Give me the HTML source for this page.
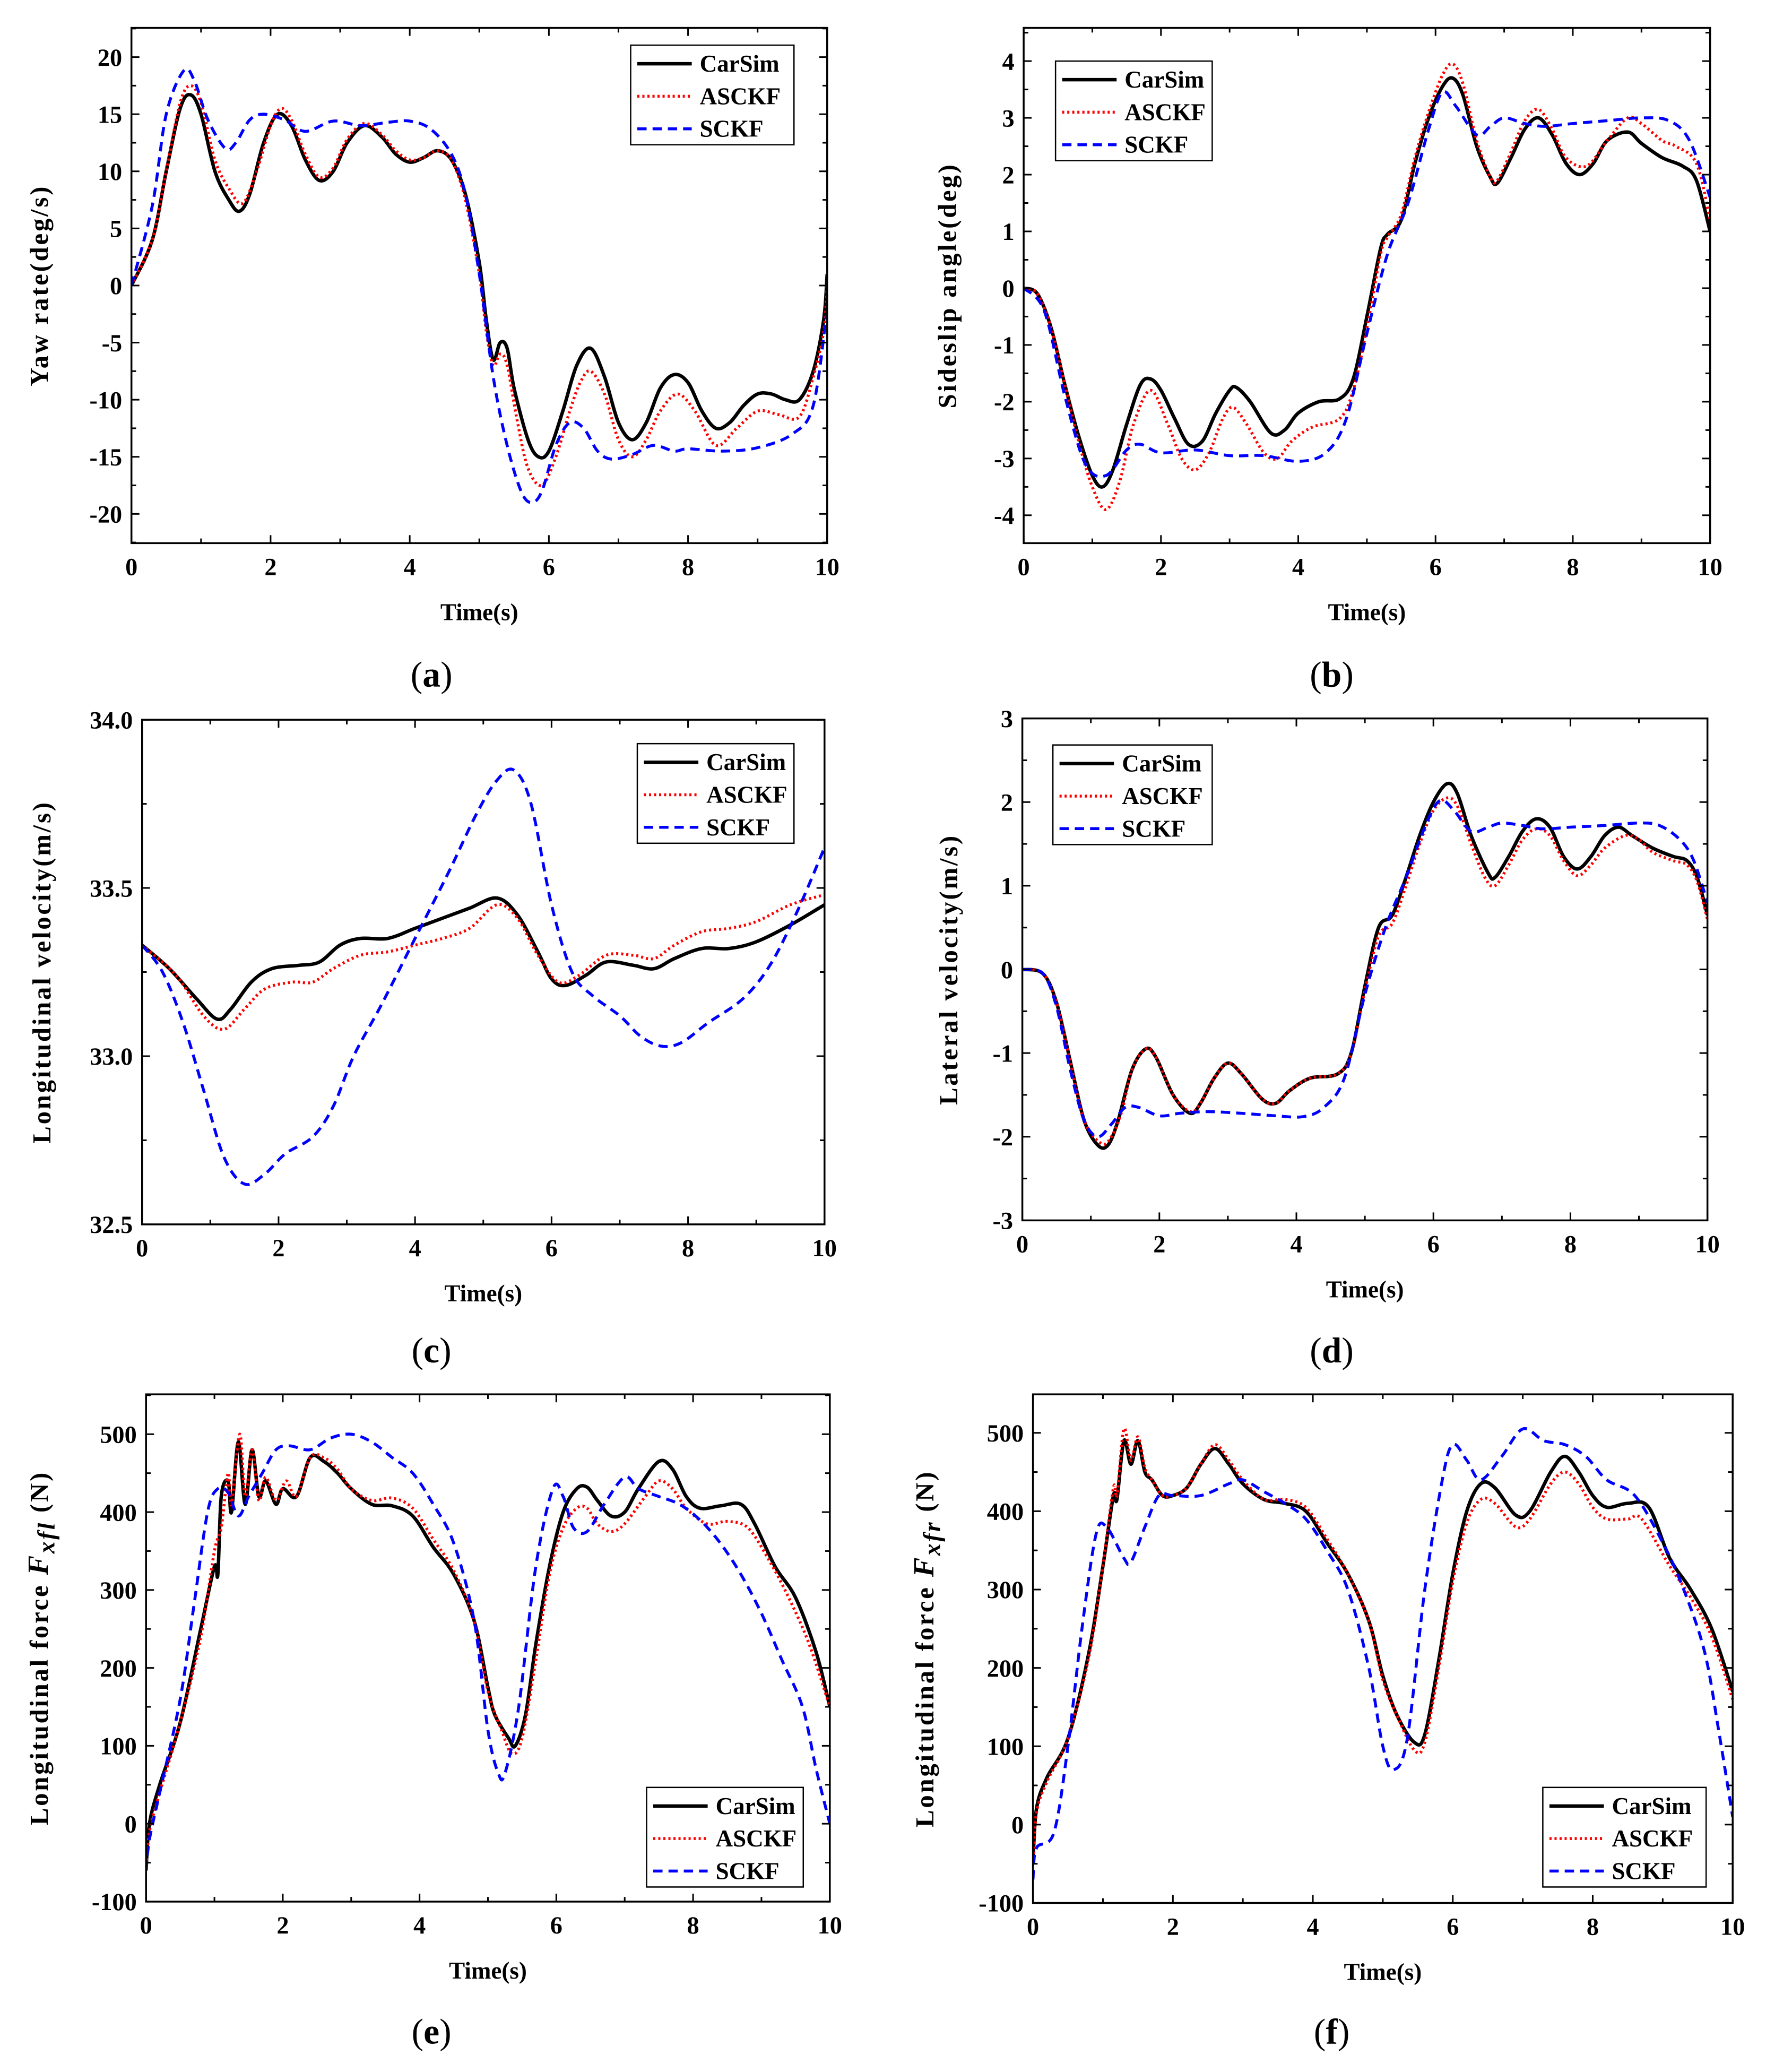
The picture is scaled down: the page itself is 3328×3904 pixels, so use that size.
<!DOCTYPE html>
<html><head><meta charset="utf-8">
<style>
html,body{margin:0;padding:0;background:#fff;}
svg{display:block;}
text{font-family:"Liberation Serif",serif;}
</style></head>
<body>
<svg id="fig" xmlns="http://www.w3.org/2000/svg" width="3328" height="3904" viewBox="0 0 1330.1 1560.3">
<rect x="0" y="0" width="1330.1" height="1560.3" fill="#fff"/>
</svg>
<script>
// ---------- data ----------
const xTicks = [0,2,4,6,8,10];
// (a) yaw rate
const aCarT = [0,0.3,0.5,0.7,0.85,1.0,1.2,1.4,1.55,1.7,1.9,2.1,2.3,2.5,2.7,2.9,3.1,3.35,3.6,3.8,4.0,4.2,4.4,4.6,4.8,5.0,5.1,5.2,5.3,5.4,5.5,5.7,5.85,6.0,6.2,6.4,6.6,6.8,7.0,7.2,7.4,7.6,7.8,8.0,8.2,8.4,8.6,8.8,9.0,9.2,9.4,9.6,9.8,9.95,10];
const aCarV = [0,4,10,15.5,16.7,15,10,7.5,6.5,8,12.5,15,14,11,9.2,10,12.5,14,13,11.5,10.8,11.2,11.8,11,8,2,-3,-6.5,-5,-5.5,-9,-13.5,-15,-14.5,-11,-7,-5.5,-8,-12,-13.5,-12,-9,-7.8,-8.5,-11,-12.5,-12,-10.5,-9.5,-9.5,-10,-10,-7.5,-3,1];
const aAsT = [0,0.3,0.5,0.7,0.85,1.0,1.2,1.4,1.6,1.8,2.0,2.15,2.3,2.5,2.7,2.9,3.1,3.35,3.6,3.8,4.0,4.2,4.4,4.6,4.8,5.0,5.1,5.2,5.3,5.4,5.55,5.7,5.9,6.1,6.3,6.45,6.6,6.8,7.0,7.2,7.4,7.6,7.85,8.1,8.4,8.7,9.0,9.3,9.6,9.8,9.95,10];
const aAsV = [0,4,10,16,17.5,16,11,8.5,7.2,10,14,15.5,14.5,11.5,9.5,10.3,12.8,14.2,13.2,11.8,11,11.2,11.8,11,7.5,1,-4,-7,-6,-7,-12,-16,-17.5,-15,-11,-8.5,-7.5,-9.5,-13.5,-15,-13.5,-11,-9.5,-11,-14,-12.5,-11,-11.3,-11.5,-8,-4,0];
const aScT = [0,0.3,0.5,0.75,0.9,1.1,1.35,1.5,1.7,1.9,2.2,2.5,2.9,3.3,3.7,4.0,4.3,4.6,4.8,5.0,5.2,5.4,5.6,5.75,5.9,6.1,6.3,6.5,6.7,6.9,7.2,7.5,7.8,8.0,8.5,9.0,9.5,9.8,10];
const aScV = [0,7,15,18.8,18,14.5,12,12.5,14.5,15,14.5,13.5,14.4,14,14.3,14.4,13.7,11.5,8,1,-8,-14,-18,-19,-18,-14,-12,-12.5,-14.5,-15.2,-14.8,-14,-14.5,-14.3,-14.5,-14.2,-13,-10.5,-2];
const aYTicks = [-20,-15,-10,-5,0,5,10,15,20];
// (b) sideslip angle
const bCarT = [0,0.2,0.4,0.6,0.8,1.0,1.15,1.3,1.5,1.7,1.85,2.0,2.2,2.4,2.6,2.8,3.0,3.1,3.3,3.6,3.8,4.0,4.3,4.6,4.8,5.0,5.2,5.3,5.5,5.7,5.9,6.1,6.25,6.4,6.6,6.8,6.9,7.1,7.3,7.5,7.7,7.9,8.1,8.3,8.5,8.8,9.0,9.3,9.6,9.8,10];
const bCarV = [0,-0.1,-0.7,-1.7,-2.6,-3.3,-3.5,-3.2,-2.4,-1.7,-1.6,-1.8,-2.3,-2.75,-2.7,-2.2,-1.8,-1.75,-2.0,-2.55,-2.5,-2.2,-2.0,-1.95,-1.6,-0.5,0.7,0.95,1.2,2.2,3.0,3.55,3.7,3.4,2.5,1.95,1.85,2.3,2.8,3.0,2.7,2.2,2.0,2.2,2.6,2.75,2.55,2.3,2.15,1.9,1.0];
const bAsT = [0,0.2,0.4,0.6,0.8,1.0,1.2,1.4,1.6,1.85,2.1,2.3,2.5,2.7,2.9,3.05,3.25,3.5,3.7,3.9,4.2,4.6,4.8,5.0,5.2,5.3,5.5,5.7,5.9,6.1,6.25,6.4,6.6,6.8,6.9,7.1,7.3,7.5,7.7,7.9,8.2,8.5,8.8,9.0,9.3,9.5,9.8,10];
const bAsV = [0,-0.1,-0.7,-1.7,-2.7,-3.5,-3.9,-3.4,-2.4,-1.8,-2.4,-3.0,-3.2,-2.9,-2.3,-2.1,-2.4,-2.9,-3.0,-2.7,-2.45,-2.3,-1.8,-0.7,0.6,0.9,1.3,2.3,3.1,3.75,3.95,3.6,2.6,1.95,1.9,2.4,2.95,3.15,2.8,2.3,2.15,2.6,3.0,2.9,2.6,2.5,2.2,1.2];
const bScT = [0,0.3,0.6,0.9,1.2,1.5,1.7,2.0,2.5,3.0,3.5,4.0,4.4,4.7,5.0,5.3,5.6,5.9,6.1,6.3,6.6,6.8,7.0,7.3,7.6,8.0,8.5,9.0,9.4,9.7,10];
const bScV = [0,-0.4,-1.9,-3.1,-3.3,-2.85,-2.75,-2.9,-2.85,-2.95,-2.95,-3.05,-2.9,-2.3,-0.8,0.6,1.5,2.8,3.45,3.2,2.7,2.85,3.0,2.9,2.85,2.9,2.95,3.0,2.95,2.6,1.6];
const bYTicks = [-4,-3,-2,-1,0,1,2,3,4];
// (c) longitudinal velocity
const cCarT = [0,0.4,0.8,1.1,1.3,1.6,1.9,2.3,2.6,2.9,3.2,3.6,4.0,4.4,4.8,5.2,5.5,5.8,6.0,6.2,6.5,6.8,7.2,7.5,7.8,8.2,8.6,9.0,9.5,10];
const cCarV = [33.33,33.26,33.17,33.11,33.14,33.22,33.26,33.27,33.28,33.33,33.35,33.35,33.38,33.41,33.44,33.47,33.42,33.31,33.23,33.21,33.24,33.28,33.27,33.26,33.29,33.32,33.32,33.34,33.39,33.45];
const cAsT = [0,0.5,0.9,1.2,1.5,1.8,2.2,2.5,2.8,3.2,3.6,4.0,4.4,4.8,5.2,5.5,5.8,6.1,6.4,6.8,7.2,7.5,7.8,8.2,8.6,9.0,9.5,10];
const cAsV = [33.33,33.24,33.12,33.08,33.14,33.2,33.22,33.22,33.26,33.3,33.31,33.33,33.35,33.38,33.45,33.41,33.3,33.22,33.24,33.3,33.3,33.29,33.33,33.37,33.38,33.4,33.45,33.48];
const cScT = [0,0.3,0.6,0.9,1.2,1.5,1.8,2.1,2.5,2.8,3.1,3.5,4.0,4.5,4.9,5.2,5.45,5.7,6.0,6.3,6.6,7.0,7.3,7.6,7.9,8.3,8.8,9.2,9.6,10];
const cScV = [33.33,33.25,33.1,32.9,32.7,32.62,32.65,32.71,32.76,32.85,33.0,33.15,33.35,33.55,33.72,33.82,33.85,33.75,33.45,33.25,33.18,33.12,33.06,33.03,33.04,33.1,33.17,33.27,33.43,33.62];
const cYTicks = [32.5,33.0,33.5,34.0];
// (d) lateral velocity
const dCarT = [0,0.3,0.5,0.7,0.9,1.1,1.25,1.4,1.6,1.8,1.95,2.2,2.45,2.6,2.8,3.0,3.2,3.5,3.7,3.9,4.2,4.6,4.8,5.0,5.2,5.4,5.6,5.8,6.0,6.2,6.35,6.55,6.8,6.9,7.1,7.3,7.5,7.7,7.9,8.1,8.3,8.5,8.7,8.9,9.2,9.5,9.7,9.85,10];
const dCarV = [0,-0.05,-0.4,-1.1,-1.8,-2.1,-2.1,-1.8,-1.2,-0.95,-1.05,-1.5,-1.72,-1.6,-1.3,-1.12,-1.25,-1.55,-1.6,-1.45,-1.3,-1.25,-1.0,-0.2,0.5,0.65,1.1,1.6,2.0,2.22,2.1,1.6,1.15,1.1,1.35,1.65,1.8,1.7,1.35,1.2,1.35,1.6,1.7,1.6,1.45,1.35,1.3,1.1,0.65];
const dAsT = [0,0.3,0.5,0.7,0.9,1.15,1.3,1.45,1.6,1.8,1.95,2.2,2.45,2.6,2.8,3.0,3.2,3.5,3.7,3.9,4.2,4.6,4.8,5.0,5.2,5.4,5.6,5.8,6.0,6.2,6.35,6.55,6.75,6.9,7.1,7.3,7.5,7.7,7.9,8.1,8.3,8.5,8.8,9.0,9.2,9.5,9.7,9.85,10];
const dAsV = [0,-0.05,-0.4,-1.1,-1.8,-2.08,-2.0,-1.7,-1.2,-0.95,-1.05,-1.5,-1.7,-1.6,-1.3,-1.12,-1.25,-1.55,-1.6,-1.45,-1.3,-1.25,-1.0,-0.25,0.4,0.55,1.0,1.5,1.9,2.05,1.95,1.5,1.1,1.0,1.25,1.55,1.68,1.6,1.3,1.12,1.25,1.45,1.6,1.55,1.4,1.3,1.25,1.05,0.6];
const dScT = [0,0.3,0.5,0.7,0.9,1.1,1.3,1.5,1.7,2.0,2.3,2.7,3.2,3.7,4.1,4.4,4.7,5.0,5.3,5.6,5.9,6.1,6.3,6.55,6.8,7.0,7.3,7.6,8.0,8.5,9.0,9.3,9.6,9.8,10];
const dScV = [0,-0.05,-0.45,-1.2,-1.8,-2.0,-1.85,-1.65,-1.65,-1.75,-1.72,-1.7,-1.72,-1.75,-1.76,-1.65,-1.3,-0.3,0.5,1.1,1.75,2.02,1.9,1.65,1.7,1.75,1.72,1.68,1.7,1.72,1.75,1.72,1.55,1.3,0.8];
const dYTicks = [-3,-2,-1,0,1,2,3];
// (e) longitudinal force F_xfl
const eCarT = [0,0.05,0.2,0.5,0.8,1.0,1.05,1.1,1.2,1.25,1.35,1.45,1.55,1.65,1.75,1.9,2.0,2.2,2.4,2.6,2.8,3.0,3.3,3.6,3.9,4.2,4.5,4.8,5.0,5.1,5.3,5.4,5.55,5.7,5.9,6.1,6.3,6.45,6.6,6.8,7.0,7.2,7.5,7.7,7.9,8.1,8.4,8.7,8.9,9.2,9.5,9.8,10];
const eCarV = [-60,0,50,130,250,330,320,420,440,400,490,410,480,420,440,410,430,420,470,465,450,430,410,408,395,355,320,260,175,140,110,100,140,230,330,400,430,432,415,395,400,430,465,455,420,405,408,410,385,330,290,220,150];
const eAsT = [0,0.05,0.2,0.5,0.8,1.0,1.1,1.2,1.25,1.37,1.45,1.55,1.65,1.75,1.9,2.05,2.2,2.4,2.6,2.8,3.0,3.3,3.6,3.9,4.2,4.5,4.8,5.0,5.2,5.35,5.5,5.7,5.9,6.1,6.3,6.45,6.6,6.8,7.0,7.3,7.5,7.7,7.9,8.2,8.5,8.8,9.1,9.4,9.7,10];
const eAsV = [-60,-10,40,130,240,350,380,450,410,500,420,480,415,445,415,440,420,470,470,455,430,415,418,405,365,325,260,170,120,90,110,210,320,380,405,405,385,375,385,420,440,430,405,385,388,380,340,290,230,150];
const eScT = [0,0.05,0.2,0.5,0.7,0.9,1.05,1.2,1.35,1.5,1.7,1.9,2.1,2.4,2.7,3.0,3.3,3.6,3.9,4.2,4.5,4.8,5.0,5.15,5.25,5.45,5.7,5.95,6.1,6.25,6.45,6.7,7.0,7.2,7.5,7.8,8.1,8.4,8.7,9.0,9.3,9.6,9.8,10];
const eScV = [-60,-20,40,160,280,400,430,425,395,420,450,480,485,480,495,500,490,470,450,410,360,260,120,65,65,150,330,430,420,380,375,410,445,430,420,410,390,360,320,270,210,150,70,0];
const eYTicks = [-100,0,100,200,300,400,500];
// (f) longitudinal force F_xfr
const fCarT = [0,0.05,0.2,0.5,0.8,1.0,1.15,1.2,1.3,1.4,1.5,1.6,1.7,1.85,2.0,2.2,2.4,2.6,2.8,3.0,3.3,3.6,3.9,4.2,4.5,4.8,5.0,5.2,5.45,5.6,5.8,6.0,6.2,6.4,6.6,6.9,7.1,7.4,7.6,7.8,8.0,8.2,8.5,8.8,9.1,9.4,9.7,10];
const fCarV = [-50,20,60,110,220,330,420,415,490,460,490,450,440,420,420,430,460,480,460,435,415,410,400,360,320,260,190,140,105,115,210,320,400,435,430,395,400,450,470,450,420,405,410,405,340,300,250,170];
const fAsT = [0,0.05,0.2,0.5,0.8,1.0,1.15,1.2,1.3,1.4,1.5,1.6,1.7,1.85,2.0,2.2,2.4,2.6,2.8,3.0,3.3,3.6,3.9,4.2,4.5,4.8,5.0,5.2,5.45,5.6,5.8,6.0,6.2,6.4,6.6,6.9,7.1,7.4,7.6,7.8,8.0,8.2,8.5,8.7,9.1,9.4,9.7,10];
const fAsV = [-50,15,55,110,215,330,430,420,505,465,495,455,440,420,420,430,460,485,465,440,415,415,405,365,320,260,185,140,95,105,200,310,385,415,410,380,390,435,450,435,405,390,390,390,330,290,240,160];
const fScT = [0,0.05,0.3,0.5,0.7,0.9,1.05,1.3,1.4,1.6,1.8,2.0,2.4,2.8,3.0,3.3,3.6,3.9,4.2,4.5,4.8,5.0,5.15,5.35,5.6,5.85,6.0,6.2,6.4,6.7,7.0,7.3,7.6,7.9,8.2,8.6,9.0,9.3,9.6,9.8,10];
const fScV = [-70,-30,-10,100,250,370,380,340,335,380,420,420,420,435,440,425,410,390,350,300,200,100,70,110,300,440,485,465,440,470,505,490,485,470,440,420,360,300,220,120,10];
const fYTicks = [-100,0,100,200,300,400,500];
const seriesNames = ["CarSim","ASCKF","SCKF"];

// ---------- rendering ----------
const NS = "http://www.w3.org/2000/svg";
const svg = document.getElementById("fig");
function mk(tag, attrs, parent){
  const e = document.createElementNS(NS, tag);
  for (const k in attrs) e.setAttribute(k, attrs[k]);
  (parent||svg).appendChild(e);
  return e;
}
function smoothPath(pts){
  let d = "M" + pts[0][0].toFixed(2) + "," + pts[0][1].toFixed(2);
  for (let i=0;i<pts.length-1;i++){
    const p0 = pts[Math.max(0,i-1)], p1 = pts[i], p2 = pts[i+1], p3 = pts[Math.min(pts.length-1,i+2)];
    const c1x = p1[0]+(p2[0]-p0[0])/6, c1y = p1[1]+(p2[1]-p0[1])/6;
    const c2x = p2[0]-(p3[0]-p1[0])/6, c2y = p2[1]-(p3[1]-p1[1])/6;
    d += " C"+c1x.toFixed(2)+","+c1y.toFixed(2)+" "+c2x.toFixed(2)+","+c2y.toFixed(2)+" "+p2[0].toFixed(2)+","+p2[1].toFixed(2);
  }
  return d;
}
const styles = [
  {stroke:"#000", w:2.6, dash:null},
  {stroke:"#ff0000", w:2.2, dash:"1.6 2.2"},
  {stroke:"#0000ff", w:2.2, dash:"7 4.5"}
];

function panel(cfg){
  const g = mk("g", {});
  
  
  const X = t => cfg.x0 + (cfg.x1-cfg.x0)*t/10;
  const Y = v => cfg.yp0 + (cfg.yp1-cfg.yp0)*(v-cfg.v0)/(cfg.v1-cfg.v0);
  const top = cfg.top, bot = cfg.bot, L = cfg.x0, R = cfg.x1;
  const clipId = "clip-"+cfg.name;
  const cp = mk("clipPath", {id:clipId}, g);
  mk("rect", {x:L, y:top, width:R-L, height:bot-top}, cp);
  cfg.series.forEach((s, i) => {
    const pts = s.t.map((t,k)=>[X(t), Y(s.v[k])]);
    const p = mk("path", {d:smoothPath(pts), fill:"none", stroke:styles[i].stroke, "stroke-width":styles[i].w, "stroke-linejoin":"round", "clip-path":"url(#"+clipId+")"}, g);
    if (styles[i].dash) p.setAttribute("stroke-dasharray", styles[i].dash);
    
    
  });
  const fr = mk("rect", {x:L, y:top, width:R-L, height:bot-top, fill:"none", stroke:"#000", "stroke-width":1.4}, g);
  
  
  const tk = "stroke:#000;stroke-width:1.2";
  for (let t=0;t<=10;t+=1){
    const len = (t%2===0)?6:3.5, x = X(t);
    mk("line", {x1:x,y1:bot,x2:x,y2:bot-len,style:tk}, g);
    mk("line", {x1:x,y1:top,x2:x,y2:top+len,style:tk}, g);
  }
  xTicks.forEach(t => {
    const tx = mk("text", {x:X(t), y:bot+24, "text-anchor":"middle", "font-size":18.5, "font-weight":"bold"}, g);
    tx.textContent = t;
    
    
  });
  const yt = cfg.yTicks, step = yt[1]-yt[0];
  for (let i=0;i<yt.length;i++){
    const vals = [yt[i]];
    if (i<yt.length-1) vals.push(yt[i]+step/2);
    vals.forEach((v,j)=>{
      const y = Y(v), len = j===0?6:3.5;
      if (y<top-0.5||y>bot+0.5) return;
      mk("line", {x1:L,y1:y,x2:L+len,y2:y,style:tk}, g);
      mk("line", {x1:R,y1:y,x2:R-len,y2:y,style:tk}, g);
    });
    if (i===0){ const y=Y(yt[0]-step/2); if (y<bot){ mk("line",{x1:L,y1:y,x2:L+3.5,y2:y,style:tk},g); mk("line",{x1:R,y1:y,x2:R-3.5,y2:y,style:tk},g);} }
    if (i===yt.length-1){ const y=Y(yt[i]+step/2); if (y>top){ mk("line",{x1:L,y1:y,x2:L+3.5,y2:y,style:tk},g); mk("line",{x1:R,y1:y,x2:R-3.5,y2:y,style:tk},g);} }
    const ty = mk("text", {x:L-7, y:Y(yt[i])+6.5, "text-anchor":"end", "font-size":18.5, "font-weight":"bold"}, g);
    ty.textContent = cfg.fmt ? cfg.fmt(yt[i]) : yt[i];
    
    
  }
  const xt = mk("text", {x:(L+R)/2, y:bot+58, "text-anchor":"middle", "font-size":18, "font-weight":"bold"}, g);
  xt.textContent = "Time(s)";
  
  
  const cy = (top+bot)/2;
  const ytl = mk("text", {x:cfg.ytx, y:cy, "text-anchor":"middle", "font-size":19.5, "letter-spacing":1.5, "font-weight":"bold", transform:"rotate(-90 "+cfg.ytx+" "+cy+")"}, g);
  
  
  if (cfg.sub){
    const a = mk("tspan", {}, ytl); a.textContent = "Longitudinal force ";
    const b = mk("tspan", {"font-style":"italic", "font-size":22}, ytl); b.textContent = "F";
    const c = mk("tspan", {"font-style":"italic", "font-size":18, dy:5}, ytl); c.textContent = cfg.sub;
    const d = mk("tspan", {dy:-5}, ytl); d.textContent = " (N)";
  } else ytl.textContent = cfg.ytitle;
  const lg = mk("g", {}, g);
  
  
  mk("rect", {x:cfg.lx, y:cfg.ly, width:cfg.lw, height:75, fill:"#fff", stroke:"#000", "stroke-width":1}, lg);
  seriesNames.forEach((n,i)=>{
    const yy = cfg.ly + 14 + i*24.5;
    const ln = mk("line", {x1:cfg.lx+5, y1:yy, x2:cfg.lx+46, y2:yy, stroke:styles[i].stroke, "stroke-width":styles[i].w}, lg);
    if (styles[i].dash) ln.setAttribute("stroke-dasharray", styles[i].dash);
    
    
    const tx = mk("text", {x:cfg.lx+52, y:yy+6, "font-size":18, "font-weight":"bold"}, lg);
    tx.textContent = n;
    
    
  });
  const cap = mk("text", {x:cfg.capX, y:cfg.capY, "text-anchor":"middle", "font-size":27}, g);
  
  
  const p1 = mk("tspan", {}, cap); p1.textContent="(";
  const p2 = mk("tspan", {"font-weight":"bold"}, cap); p2.textContent=cfg.letter;
  const p3 = mk("tspan", {}, cap); p3.textContent=")";
}

panel({name:"panel-a-yaw-rate", letter:"a", x0:99, x1:623, top:21, bot:409, v0:20, yp0:43, v1:-20, yp1:387, yTicks:aYTicks,
  ytitle:"Yaw rate(deg/s)", ytx:36, lx:475, ly:34, lw:123, capX:325, capY:517,
  series:[{t:aCarT,v:aCarV},{t:aAsT,v:aAsV},{t:aScT,v:aScV}]});
panel({name:"panel-b-sideslip-angle", letter:"b", x0:771, x1:1288, top:21, bot:409, v0:4, yp0:46, v1:-4, yp1:388, yTicks:bYTicks,
  ytitle:"Sideslip angle(deg)", ytx:720, lx:795, ly:46, lw:118, capX:1003, capY:517,
  series:[{t:bCarT,v:bCarV},{t:bAsT,v:bAsV},{t:bScT,v:bScV}]});
panel({name:"panel-c-longitudinal-velocity", letter:"c", x0:107, x1:621, top:542, bot:922, v0:34, yp0:542, v1:32.5, yp1:922, yTicks:cYTicks,
  fmt:v=>v.toFixed(1), ytitle:"Longitudinal velocity(m/s)", ytx:38, lx:480, ly:560, lw:118, capX:325, capY:1026,
  series:[{t:cCarT,v:cCarV},{t:cAsT,v:cAsV},{t:cScT,v:cScV}]});
panel({name:"panel-d-lateral-velocity", letter:"d", x0:770, x1:1286, top:541, bot:919, v0:3, yp0:541, v1:-3, yp1:919, yTicks:dYTicks,
  ytitle:"Lateral velocity(m/s)", ytx:721, lx:793, ly:561, lw:120, capX:1003, capY:1026,
  series:[{t:dCarT,v:dCarV},{t:dAsT,v:dAsV},{t:dScT,v:dScV}]});
panel({name:"panel-e-force-fxfl", letter:"e", x0:110, x1:625, top:1050, bot:1432, v0:500, yp0:1080, v1:-100, yp1:1432, yTicks:eYTicks,
  sub:"xfl", ytx:36, lx:487, ly:1346, lw:118, capX:325, capY:1539,
  series:[{t:eCarT,v:eCarV},{t:eAsT,v:eAsV},{t:eScT,v:eScV}]});
panel({name:"panel-f-force-fxfr", letter:"f", x0:778, x1:1305, top:1050, bot:1433, v0:500, yp0:1079, v1:-100, yp1:1433, yTicks:fYTicks,
  sub:"xfr", ytx:703, lx:1162, ly:1346, lw:123, capX:1003, capY:1539,
  series:[{t:fCarT,v:fCarV},{t:fAsT,v:fAsV},{t:fScT,v:fScV}]});
</script>
</body></html>
